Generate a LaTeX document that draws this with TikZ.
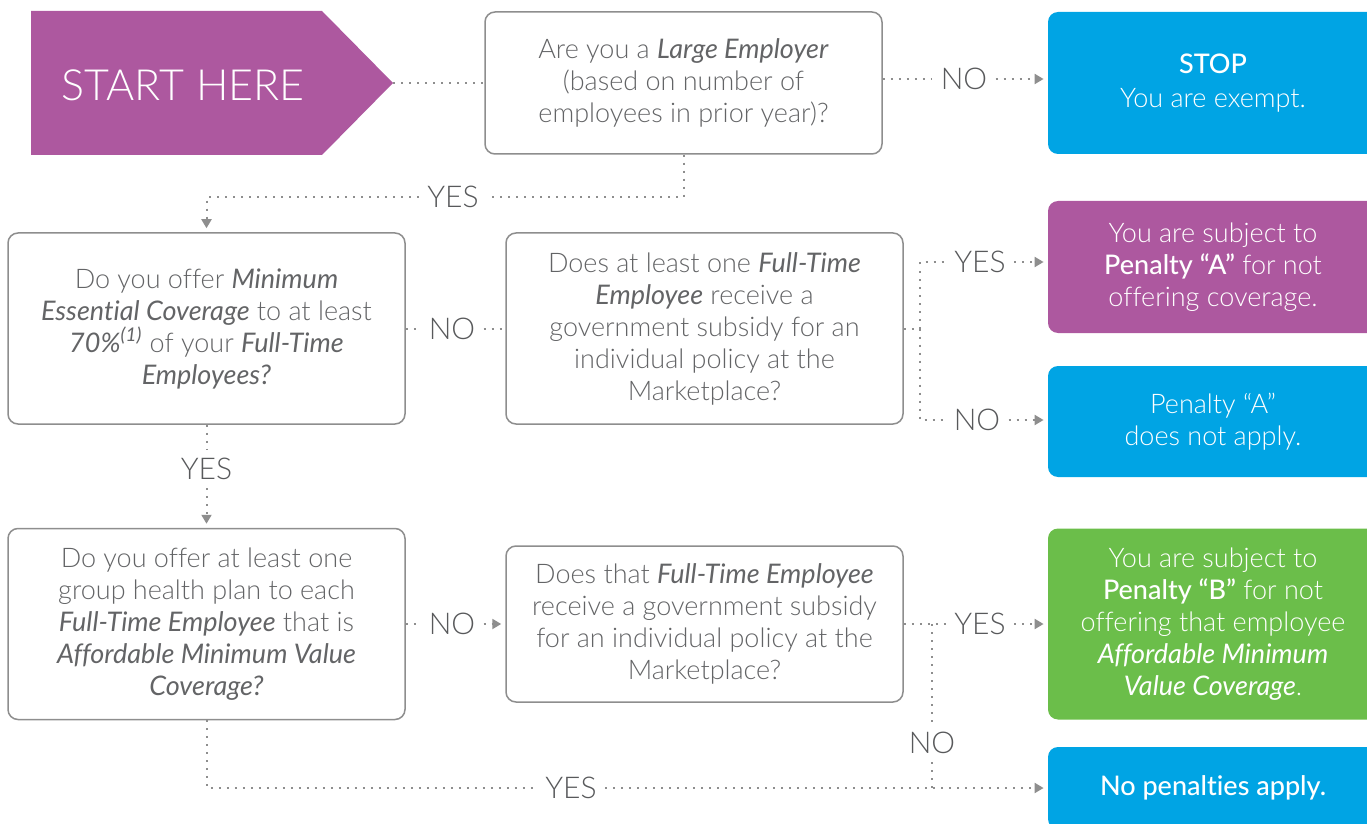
\documentclass[tikz,border=0pt]{standalone}
\usepackage{fontspec}
\setmainfont{Lato}[UprightFont=* Light, ItalicFont=* Italic, BoldFont=* Medium, BoldItalicFont=* Medium Italic, Ligatures=NoCommon]
\usetikzlibrary{arrows.meta}

\definecolor{plum}{HTML}{AD589F}
\definecolor{skyblue}{HTML}{00A4E4}
\definecolor{leafgreen}{HTML}{6BBE4A}
\definecolor{inkgray}{HTML}{636466}
\definecolor{labelgray}{HTML}{58595B}
\definecolor{linegray}{HTML}{8E8E8E}

\tikzset{
  question/.style={draw=linegray, line width=0.75pt, rounded corners=5pt,
    align=center, text=inkgray, font=\fontsize{13.5}{16}\selectfont,
    minimum width=198.5pt, inner sep=0pt},
  outcome/.style={rounded corners=5pt, align=center, text=white,
    font=\fontsize{13.5}{16}\selectfont, minimum width=165pt, inner sep=0pt},
  answer/.style={text=labelgray, font=\fontsize{15}{16}\selectfont, inner sep=4pt},
  dotline/.style={linegray, line width=1pt, dash pattern=on 1pt off 3pt},
  dotarrow/.style={dotline, -{Triangle[length=4.5pt,width=5pt]}, shorten >=2pt},
}

\begin{document}
\begin{tikzpicture}[x=0.5pt, y=-0.5pt]
    \useasboundingbox (0,0) rectangle (1367,824);
    \clip (0,0) rectangle (1367,824);

    % Start arrow
    \fill[plum] (31,11) -- (322,11) -- (393,83) -- (322,155) -- (31,155) -- cycle;
    \node[text=white, font=\fontsize{21.5}{24}\selectfont] (start) at (183,85) {START HERE};
    \coordinate (starttip) at (393,83);

    % Questions
    \node[question, minimum height=71pt] (q1) at (683.5,83)
        {Are you a \emph{Large Employer}\\(based on number of\\employees in prior year)?};
    \node[question, minimum height=95.5pt] (q2) at (206.5,328.5)
        {Do you offer \emph{Minimum}\\\emph{Essential Coverage} to at least\\\emph{70\%\textsuperscript{(1)}} of your \emph{Full-Time}\\\emph{Employees?}};
    \node[question, minimum height=95.5pt] (q3) at (704.5,328.5)
        {Does at least one \emph{Full-Time}\\\emph{Employee} receive a\\government subsidy for an\\individual policy at the\\Marketplace?};
    \node[question, minimum height=95.5pt] (q4) at (206.5,624)
        {Do you offer at least one\\group health plan to each\\\emph{Full-Time Employee} that is\\\emph{Affordable Minimum Value}\\\emph{Coverage?}};
    \node[question, minimum height=78pt] (q5) at (704.5,624)
        {Does that \emph{Full-Time Employee}\\receive a government subsidy\\for an individual policy at the\\Marketplace?};

    % Outcomes
    \node[outcome, fill=skyblue, minimum height=71pt] (stop) at (1213,83)
        {{\bfseries STOP}\\[1pt]You are exempt.};
    \node[outcome, fill=plum, minimum height=66pt] (penA) at (1213,267)
        {You are subject to\\{\bfseries Penalty “A”} for not\\offering coverage.};
    \node[outcome, fill=skyblue, minimum height=55.5pt] (noA) at (1213,421.5)
        {Penalty “A”\\does not apply.};
    \node[outcome, fill=leafgreen, minimum height=95.5pt] (penB) at (1213,624)
        {You are subject to\\{\bfseries Penalty “B”} for not\\offering that employee\\\emph{Affordable Minimum}\\\emph{Value Coverage}.};
    \node[outcome, fill=skyblue, minimum height=41pt] (nopen) at (1213,788)
        {\bfseries No penalties apply.};

    % Answers
    \node[answer] (no1) at (964,79) {NO};
    \node[answer] (yes1) at (453,197) {YES};
    \node[answer] (no2) at (452,328.5) {NO};
    \node[answer] (yesA) at (980,262) {YES};
    \node[answer] (noA1) at (977,420) {NO};
    \node[answer] (yes2) at (206.5,469) {YES};
    \node[answer] (no4) at (452,624) {NO};
    \node[answer] (yes5) at (980,624) {YES};
    \node[answer] (no5) at (932,743) {NO};
    \node[answer] (yes6) at (571,788) {YES};
    \coordinate (fork1) at (920,328.5);
    \coordinate (fork2) at (932,624);
    \coordinate (join) at (932,788);

    % Connectors
    \draw[dotline] (starttip) -- (q1);
    \draw[dotline] (q1.east |- no1) -- (no1);
    \draw[dotarrow] (no1) -- (no1 -| stop.west);
    \draw[dotline] (q1.south) |- (yes1);
    \draw[dotarrow] (yes1) -| (q2.north);
    \draw[dotline] (q2) -- (no2);
    \draw[dotline] (no2) -- (q3);
    \draw[dotline] (q3) -- (fork1);
    \draw[dotline] (fork1) |- (yesA);
    \draw[dotline] (fork1) |- (noA1);
    \draw[dotarrow] (yesA) -- (yesA -| penA.west);
    \draw[dotarrow] (noA1) -- (noA1 -| noA.west);
    \draw[dotline] (q2) -- (yes2);
    \draw[dotarrow] (yes2) -- (q4);
    \draw[dotline] (q4) -- (no4);
    \draw[dotarrow] (no4) -- (q5);
    \draw[dotline] (q5) -- (yes5);
    \draw[dotarrow] (yes5) -- (penB);
    \draw[dotline] (fork2) -- (no5);
    \draw[dotline] (no5) -- (join);
    \draw[dotline] (q4) |- (yes6);
    \draw[dotarrow] (yes6) -- (nopen);
\end{tikzpicture}
\end{document}
